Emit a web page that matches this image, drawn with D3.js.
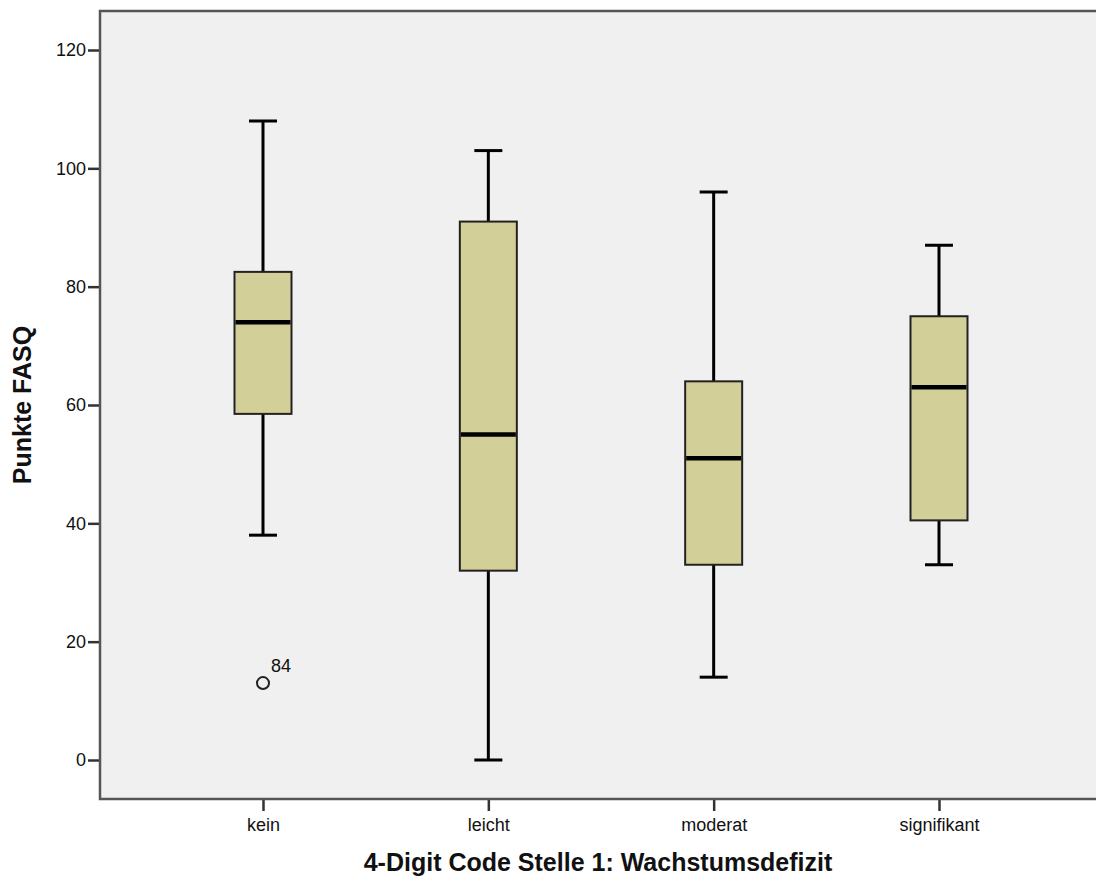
<!DOCTYPE html>
<html>
<head>
<meta charset="utf-8">
<script src="https://cdn.jsdelivr.net/npm/d3@7/dist/d3.min.js"></script>
<style>
  html, body { margin: 0; padding: 0; background: #ffffff; overflow: hidden; }
  svg { display: block; font-family: "Liberation Sans", Arial, sans-serif; }
</style>
</head>
<body>
<svg id="chart" width="1096" height="881"></svg>
<script>
// Groups of the FASQ score by growth-deficit code
const categories = ["kein", "leicht", "moderat", "signifikant"];
const whiskerLow  = [38, 0, 14, 33];
const q1          = [58.5, 32, 33, 40.5];
const median      = [74, 55, 51, 63];
const q3          = [82.5, 91, 64, 75];
const whiskerHigh = [108, 103, 96, 87];

// Outliers: group, value, case label
const outlierGroup = ["kein"];
const outlierValue = [13];
const outlierLabel = ["84"];

const yTicks = [0, 20, 40, 60, 80, 100, 120];

const svg = d3.select("#chart");

const plot = { left: 100, top: 11, right: 1103, bottom: 799 };

const x = d3.scalePoint()
  .domain(categories)
  .range([263, 939]);

const y = d3.scaleLinear()
  .domain([0, 120])
  .range([760, 50]);

const boxWidth = 57;
const capWidth = 28;

// plot background
svg.append("rect")
  .attr("x", plot.left)
  .attr("y", plot.top)
  .attr("width", plot.right - plot.left)
  .attr("height", plot.bottom - plot.top)
  .attr("fill", "#f0f0f0");

const boxes = categories.map((c, i) => ({
  cat: c, lo: whiskerLow[i], q1: q1[i], med: median[i], q3: q3[i], hi: whiskerHigh[i]
}));

const g = svg.append("g");

// whiskers
g.selectAll("line.whisker-up").data(boxes).join("line")
  .attr("x1", d => x(d.cat)).attr("x2", d => x(d.cat))
  .attr("y1", d => y(d.q3)).attr("y2", d => y(d.hi))
  .attr("stroke", "#000").attr("stroke-width", 3);
g.selectAll("line.whisker-down").data(boxes).join("line")
  .attr("x1", d => x(d.cat)).attr("x2", d => x(d.cat))
  .attr("y1", d => y(d.q1)).attr("y2", d => y(d.lo))
  .attr("stroke", "#000").attr("stroke-width", 3);

// caps
g.selectAll("line.cap-hi").data(boxes).join("line")
  .attr("x1", d => x(d.cat) - capWidth / 2).attr("x2", d => x(d.cat) + capWidth / 2)
  .attr("y1", d => y(d.hi)).attr("y2", d => y(d.hi))
  .attr("stroke", "#000").attr("stroke-width", 3);
g.selectAll("line.cap-lo").data(boxes).join("line")
  .attr("x1", d => x(d.cat) - capWidth / 2).attr("x2", d => x(d.cat) + capWidth / 2)
  .attr("y1", d => y(d.lo)).attr("y2", d => y(d.lo))
  .attr("stroke", "#000").attr("stroke-width", 3);

// boxes
g.selectAll("rect.box").data(boxes).join("rect")
  .attr("x", d => x(d.cat) - boxWidth / 2)
  .attr("width", boxWidth)
  .attr("y", d => y(d.q3))
  .attr("height", d => y(d.q1) - y(d.q3))
  .attr("fill", "#d3cf98")
  .attr("stroke", "#222")
  .attr("stroke-width", 2);

// medians
g.selectAll("line.median").data(boxes).join("line")
  .attr("x1", d => x(d.cat) - boxWidth / 2 + 1).attr("x2", d => x(d.cat) + boxWidth / 2 - 1)
  .attr("y1", d => y(d.med)).attr("y2", d => y(d.med))
  .attr("stroke", "#000").attr("stroke-width", 4.5);

// outliers
const outliers = outlierGroup.map((c, i) => ({ cat: c, v: outlierValue[i], label: outlierLabel[i] }));
g.selectAll("circle.outlier").data(outliers).join("circle")
  .attr("cx", d => x(d.cat))
  .attr("cy", d => y(d.v))
  .attr("r", 6)
  .attr("fill", "none")
  .attr("stroke", "#222")
  .attr("stroke-width", 2);
g.selectAll("text.outlier-label").data(outliers).join("text")
  .attr("x", d => x(d.cat) + 8)
  .attr("y", d => y(d.v) - 11)
  .attr("font-size", 18)
  .attr("fill", "#111")
  .text(d => d.label);

// axes
const yAxis = d3.axisLeft(y).tickValues(yTicks).tickSize(12).tickPadding(2);
const yG = svg.append("g").attr("transform", `translate(${plot.left},0)`).call(yAxis);
yG.select(".domain").remove();
yG.selectAll(".tick line").attr("stroke", "#333").attr("stroke-width", 2.5);
yG.selectAll(".tick text").attr("font-size", 18).attr("fill", "#111")
  .attr("font-family", "'Liberation Sans', Arial, sans-serif");

const xAxis = d3.axisBottom(x).tickSize(12).tickPadding(7);
const xG = svg.append("g").attr("transform", `translate(0,${plot.bottom})`).call(xAxis);
xG.select(".domain").remove();
xG.selectAll(".tick line").attr("stroke", "#333").attr("stroke-width", 2.5);
xG.selectAll(".tick text").attr("font-size", 18).attr("fill", "#111")
  .attr("font-family", "'Liberation Sans', Arial, sans-serif");

// frame
svg.append("rect")
  .attr("x", plot.left)
  .attr("y", plot.top)
  .attr("width", plot.right - plot.left)
  .attr("height", plot.bottom - plot.top)
  .attr("fill", "none")
  .attr("stroke", "#555")
  .attr("stroke-width", 2.5);

// axis titles
svg.append("text")
  .attr("x", 598)
  .attr("y", 871)
  .attr("text-anchor", "middle")
  .attr("font-size", 25)
  .attr("font-weight", "bold")
  .attr("fill", "#111")
  .text("4-Digit Code Stelle 1: Wachstumsdefizit");

svg.append("text")
  .attr("transform", "translate(31,405) rotate(-90)")
  .attr("text-anchor", "middle")
  .attr("font-size", 25)
  .attr("font-weight", "bold")
  .attr("fill", "#111")
  .text("Punkte FASQ");
</script>
</body>
</html>
